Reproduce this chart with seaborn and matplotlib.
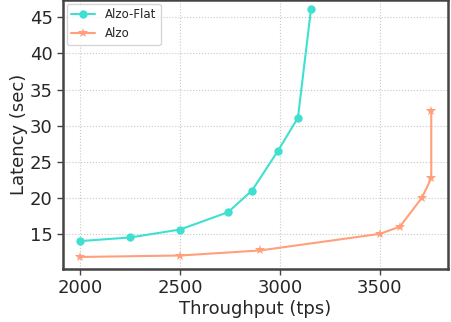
import matplotlib
matplotlib.use("Agg")
import matplotlib.pyplot as plt
import seaborn as sns
import pandas as pd

# datos
flat_tps = [2000, 2250, 2500, 2740, 2860, 2990, 3090, 3155]
flat_lat = [14.0, 14.5, 15.6, 18.0, 21.0, 26.5, 31.1, 46.1]
alzo_tps = [2000, 2500, 2900, 3500, 3600, 3710, 3757, 3757]
alzo_lat = [11.8, 12.0, 12.7, 15.0, 16.0, 20.0, 22.7, 32.0]

sns.set_style("whitegrid", {"grid.linestyle": ":", "grid.color": "#c8c8c8",
                            "axes.edgecolor": "#444444"})

fig = plt.figure(figsize=(4.51, 3.22), dpi=100)
ax = fig.add_axes([0.14, 0.165, 0.853, 0.835])

df_flat = pd.DataFrame({"tps": flat_tps, "lat": flat_lat})
df_alzo = pd.DataFrame({"tps": alzo_tps, "lat": alzo_lat})

sns.lineplot(data=df_flat, x="tps", y="lat", ax=ax, color="#40E0D0", marker="o",
             markersize=6, markeredgewidth=0, linewidth=1.5, sort=False,
             estimator=None, label="Alzo-Flat")
sns.lineplot(data=df_alzo, x="tps", y="lat", ax=ax, color="#FFA07A", marker="*",
             markersize=7, markeredgewidth=0, linewidth=1.5, sort=False,
             estimator=None, label="Alzo")

ax.set_xlim(1915, 3840)
ax.set_ylim(10.15, 47.4)
ax.set_xticks([2000, 2500, 3000, 3500])
ax.set_yticks([15, 20, 25, 30, 35, 40, 45])
ax.tick_params(labelsize=13, length=4, width=1, left=True, bottom=True, color="#444444")
ax.set_xlabel("Throughput (tps)", fontsize=13, labelpad=2)
ax.set_ylabel("Latency (sec)", fontsize=13, labelpad=1)
for s in ax.spines.values():
    s.set_linewidth(1.8)
ax.legend(loc="upper left", fontsize=8.5, frameon=True, borderaxespad=0.3)

fig.savefig("out.png", dpi=100)
